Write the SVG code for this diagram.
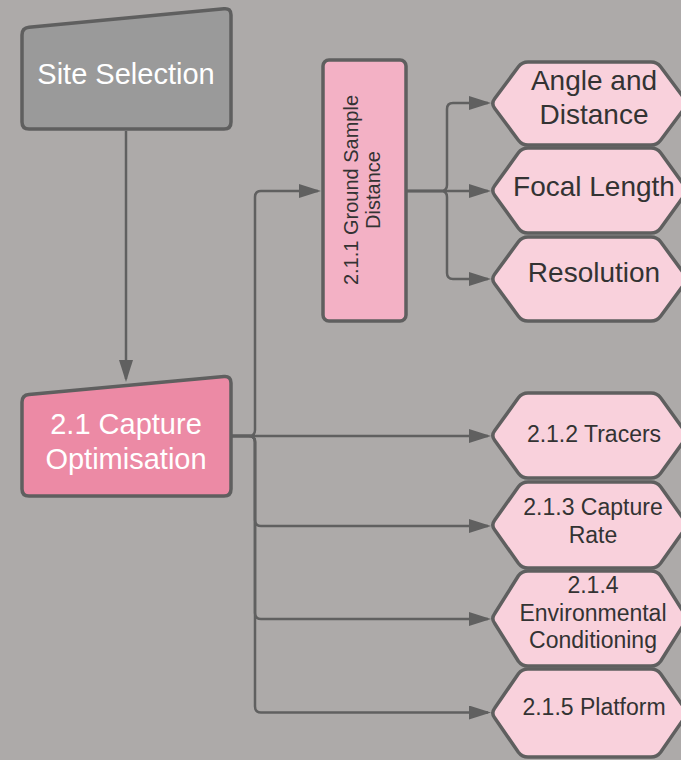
<svg xmlns="http://www.w3.org/2000/svg" width="681" height="760" viewBox="0 0 681 760">
  <style>
    .node { stroke: #5f5f5f; stroke-width: 3.5; stroke-linejoin: round; }
    .grey { fill: #9a9a9a; }
    .rose { fill: #ec8aa5; }
    .pinkbox { fill: #f3b1c5; }
    .hex { fill: #f9d1dc; }
    .conn { fill: none; stroke: #606060; stroke-width: 2.5; marker-end: url(#arrow); }
    text { font-family: "Liberation Sans", Arial, sans-serif; text-anchor: middle; }
    .t-white { fill: #ffffff; font-size: 29px; }
    .t-big { fill: #333333; font-size: 28px; }
    .t-mid { fill: #333333; font-size: 23px; }
    .t-small { fill: #333333; font-size: 20px; }
  </style>
  <defs>
    <marker id="arrow" markerUnits="userSpaceOnUse" markerWidth="22" markerHeight="14" refX="19" refY="7" orient="auto">
      <path d="M0,0 L22,7 L0,14 Z" fill="#606060"/>
    </marker>
  </defs>

  <rect width="681" height="760" fill="#adaaa9"/>

  <g id="connectors">
    <path class="conn" d="M126,131 V379"/>
    <path class="conn" d="M232,436 H249 Q255,436 255,430 V197 Q255,191 261,191 H318"/>
    <path class="conn" d="M232,436 H488"/>
    <path class="conn" d="M232,436 H249 Q255,436 255,442 V520 Q255,526 261,526 H488"/>
    <path class="conn" d="M232,436 H249 Q255,436 255,442 V613 Q255,619 261,619 H488"/>
    <path class="conn" d="M232,436 H249 Q255,436 255,442 V706.5 Q255,712.5 261,712.5 H488"/>
    <path class="conn" d="M406,191 H441 Q447,191 447,185 V109 Q447,103 453,103 H488"/>
    <path class="conn" d="M406,191 H488"/>
    <path class="conn" d="M406,191 H441 Q447,191 447,197 V273 Q447,279 453,279 H488"/>
  </g>

  <g id="site-selection">
    <path class="node grey" d="M22,35 Q22,28 29,27.3 L224,8.7 Q231,8 231,15 V122 Q231,129 224,129 H29 Q22,129 22,122 Z"/>
    <text class="t-white" x="126" y="84">Site Selection</text>
  </g>

  <g id="capture-optimisation">
    <path class="node rose" d="M22,402 Q22,395 29,394.4 L224,376.6 Q231,376 231,383 V489 Q231,496 224,496 H29 Q22,496 22,489 Z"/>
    <text class="t-white" x="126" y="434">2.1 Capture</text>
    <text class="t-white" x="126" y="469">Optimisation</text>
  </g>

  <g id="ground-sample-distance">
    <rect class="node pinkbox" x="323" y="60" width="83" height="261" rx="6"/>
    <g transform="translate(364,190) rotate(-90)">
      <text class="t-small" x="0" y="-6">2.1.1 Ground Sample</text>
      <text class="t-small" x="0" y="16">Distance</text>
    </g>
  </g>

  <g id="angle-distance">
    <path class="node hex" d="M494.6,98.7 L518.4,66.8 Q522,62 528,62 H651 Q657,62 660.6,66.8 L684.4,98.7 Q688,103.5 684.4,108.3 L660.6,140.2 Q657,145 651,145 H528 Q522,145 518.4,140.2 L494.6,108.3 Q491,103.5 494.6,98.7 Z"/>
    <text class="t-big" x="594" y="90">Angle and</text>
    <text class="t-big" x="594" y="124">Distance</text>
  </g>

  <g id="focal-length">
    <path class="node hex" d="M494.6,185.7 L518.4,152.8 Q522,148 528,148 H651 Q657,148 660.6,152.8 L684.4,185.7 Q688,190.5 684.4,195.3 L660.6,228.2 Q657,233 651,233 H528 Q522,233 518.4,228.2 L494.6,195.3 Q491,190.5 494.6,185.7 Z"/>
    <text class="t-big" x="594" y="196">Focal Length</text>
  </g>

  <g id="resolution">
    <path class="node hex" d="M494.6,274.2 L518.4,241.8 Q522,237 528,237 H651 Q657,237 660.6,241.8 L684.4,274.2 Q688,279 684.4,283.8 L660.6,316.2 Q657,321 651,321 H528 Q522,321 518.4,316.2 L494.6,283.8 Q491,279 494.6,274.2 Z"/>
    <text class="t-big" x="594" y="282">Resolution</text>
  </g>

  <g id="tracers">
    <path class="node hex" d="M494.6,430.7 L518.4,397.8 Q522,393 528,393 H651 Q657,393 660.6,397.8 L684.4,430.7 Q688,435.5 684.4,440.3 L660.6,473.2 Q657,478 651,478 H528 Q522,478 518.4,473.2 L494.6,440.3 Q491,435.5 494.6,430.7 Z"/>
    <text class="t-mid" x="594" y="442">2.1.2 Tracers</text>
  </g>

  <g id="capture-rate">
    <path class="node hex" d="M494.6,520.2 L518.4,486.8 Q522,482 528,482 H651 Q657,482 660.6,486.8 L684.4,520.2 Q688,525 684.4,529.8 L660.6,563.2 Q657,568 651,568 H528 Q522,568 518.4,563.2 L494.6,529.8 Q491,525 494.6,520.2 Z"/>
    <text class="t-mid" x="593" y="515">2.1.3 Capture</text>
    <text class="t-mid" x="593" y="543">Rate</text>
  </g>

  <g id="environmental-conditioning">
    <path class="node hex" d="M494.6,613.7 L518.4,575.8 Q522,571 528,571 H651 Q657,571 660.6,575.8 L684.4,613.7 Q688,618.5 684.4,623.3 L660.6,661.2 Q657,666 651,666 H528 Q522,666 518.4,661.2 L494.6,623.3 Q491,618.5 494.6,613.7 Z"/>
    <text class="t-mid" x="593" y="593">2.1.4</text>
    <text class="t-mid" x="593" y="621">Environmental</text>
    <text class="t-mid" x="593" y="648">Conditioning</text>
  </g>

  <g id="platform">
    <path class="node hex" d="M494.6,708.2 L518.4,673.8 Q522,669 528,669 H651 Q657,669 660.6,673.8 L684.4,708.2 Q688,713 684.4,717.8 L660.6,752.2 Q657,757 651,757 H528 Q522,757 518.4,752.2 L494.6,717.8 Q491,713 494.6,708.2 Z"/>
    <text class="t-mid" x="594" y="715">2.1.5 Platform</text>
  </g>
</svg>
